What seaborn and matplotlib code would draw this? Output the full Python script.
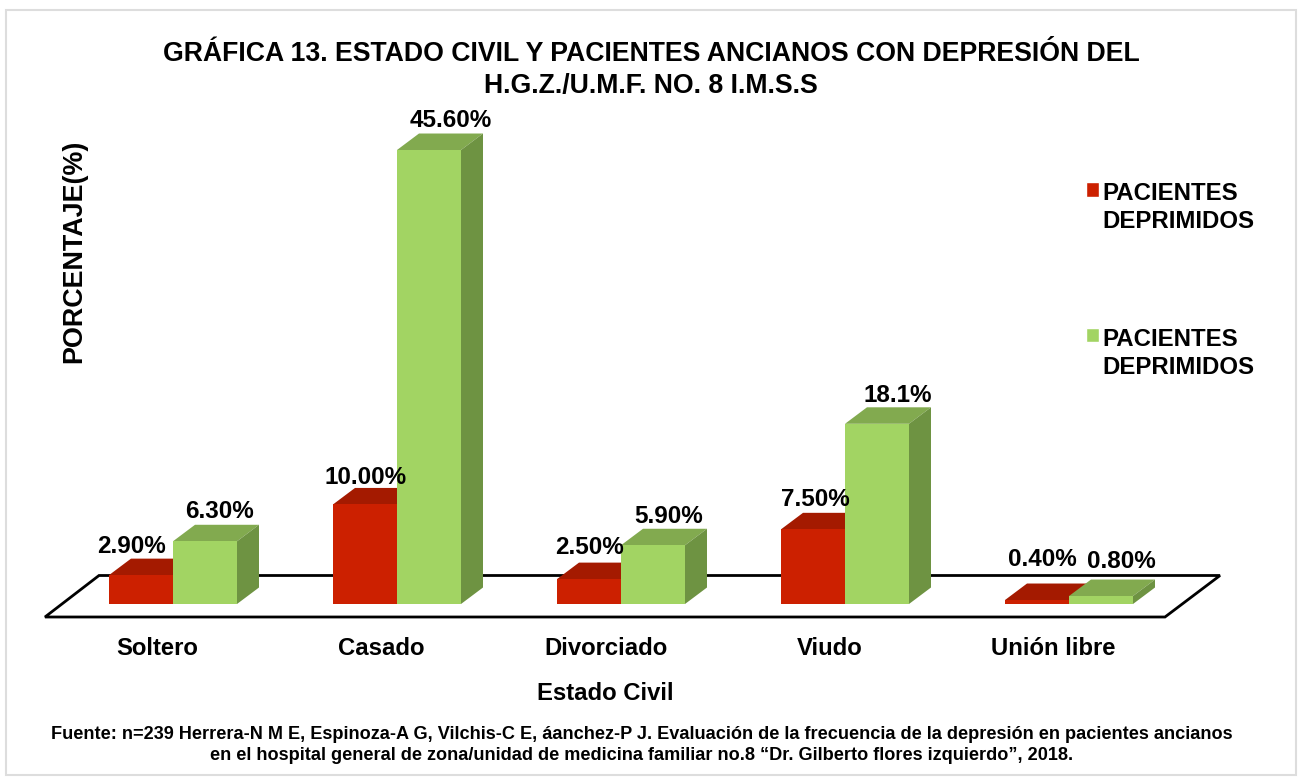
import matplotlib
matplotlib.use("Agg")
import matplotlib.pyplot as plt
import seaborn as sns
import pandas as pd
from matplotlib.patches import Polygon, Rectangle
from matplotlib.legend_handler import HandlerPatch
from matplotlib.transforms import ScaledTranslation

categories = ["Soltero", "Casado", "Divorciado", "Viudo", "Unión libre"]
series_a = [2.9, 10.0, 2.5, 7.5, 0.4]
series_b = [6.3, 45.6, 5.9, 18.1, 0.8]
labels_a = ["2.90%", "10.00%", "2.50%", "7.50%", "0.40%"]
labels_b = ["6.30%", "45.60%", "5.90%", "18.1%", "0.80%"]
legend_name = "PACIENTES\nDEPRIMIDOS"

W, H = 1302, 783
BASE = 604
PX_PER_UNIT = 9.956
X0, STEP = 173, 224
DX, DY = 22, 16.5

sns.set_theme(style="white")
plt.rcParams["font.family"] = ["Liberation Sans", "DejaVu Sans"]
plt.rcParams["font.weight"] = "bold"

fig = plt.figure(figsize=(W / 100, H / 100), dpi=100, facecolor="white")
ax = fig.add_axes([0, 1 - BASE / H, 1, BASE / H])
ax.patch.set_alpha(0)

df = pd.DataFrame({
    "cat": categories * 2,
    "val": series_a + series_b,
    "ser": ["a"] * 5 + ["b"] * 5,
})
fronts = {"a": "#CC2000", "b": "#A2D463"}
tops = {"a": "#A41A00", "b": "#82AA4F"}
sides = {"a": "#8E1600", "b": "#6E9342"}
sns.barplot(data=df, x="cat", y="val", hue="ser", order=categories, hue_order=["a", "b"],
            palette=fronts, width=128 / 224, gap=0, saturation=1, ax=ax, legend=False,
            errorbar=None)

ax.set_xlim(-X0 / STEP, (W - X0) / STEP)
ax.set_ylim(0, BASE / PX_PER_UNIT)
ux = 1 / STEP
uy = 1 / PX_PER_UNIT

def fig_xy(px, py):
    return (px / W, 1 - py / H)

floor = Polygon([fig_xy(99, 575.5), fig_xy(1220, 575.5), fig_xy(1165, 617), fig_xy(45, 617)],
                closed=True, fill=False, edgecolor="black", linewidth=2.0,
                transform=fig.transFigure, clip_on=False, zorder=1, joinstyle="miter")
ax.add_patch(floor)

bars = [b for b in ax.patches if isinstance(b, Rectangle)]
bars_a = bars[:5]
bars_b = bars[5:10]

# label offsets relative to bar-top centre, in pixels
off_a = [(-10, 28.5), (1, 26.5), (0, 31.5), (2, 29.5), (5, 40.5)]
off_b = [(14, 29.5), (22, 29.5), (16, 28.5), (21, 28.5), (20, 34.5)]

for key, bs, labs, offs, z in (("a", bars_a, labels_a, off_a, 3), ("b", bars_b, labels_b, off_b, 5)):
    for b, lab, (ox, oy) in zip(bs, labs, offs):
        x0, w, h = b.get_x(), b.get_width(), b.get_height()
        x1 = x0 + w
        dx, dy = DX * ux, DY * uy
        b.set_zorder(z + 0.5)
        b.set_edgecolor("none")
        ax.add_patch(Polygon([(x0, h), (x1, h), (x1 + dx, h + dy), (x0 + dx, h + dy)],
                             facecolor=tops[key], edgecolor="none", zorder=z))
        ax.add_patch(Polygon([(x1, 0), (x1 + dx, dy), (x1 + dx, h + dy), (x1, h)],
                             facecolor=sides[key], edgecolor="none", zorder=z))
        ax.annotate(lab, (x0 + w / 2, h), xytext=(ox * 0.72, oy * 0.72),
                    textcoords="offset points", ha="center", va="center",
                    fontsize=17.5, fontweight="bold", color="black", zorder=10,
                    annotation_clip=False)

sns.despine(ax=ax, left=True, bottom=True, top=True, right=True)
ax.set_yticks([])
ax.tick_params(axis="x", length=0, pad=23.5)
shift = ScaledTranslation(-15.5 / 100, 0, fig.dpi_scale_trans)
for t in ax.get_xticklabels():
    t.set_fontsize(17.2)
    t.set_fontweight("bold")
    t.set_color("black")
    t.set_transform(t.get_transform() + shift)

ax.set_xlabel("Estado Civil", fontsize=17.2, fontweight="bold", color="black")
ax.xaxis.set_label_coords(605 / W, (BASE - 694) / BASE)
ax.xaxis.label.set_verticalalignment("center")
ax.set_ylabel("PORCENTAJE(%)", fontsize=19.4, fontweight="bold", color="black")
ax.yaxis.set_label_coords(74 / W, (BASE - 251) / BASE)
ax.yaxis.label.set_verticalalignment("center")

fig.text(651 / W, 1 - 70 / H, "GRÁFICA 13. ESTADO CIVIL Y PACIENTES ANCIANOS CON DEPRESIÓN DEL\nH.G.Z./U.M.F. NO. 8 I.M.S.S",
         ha="center", va="center", fontsize=19.2, fontweight="bold", color="black", linespacing=1.34)
fig.text(642 / W, 1 - 745 / H,
         "Fuente: n=239 Herrera-N M E, Espinoza-A G, Vilchis-C E, áanchez-P J. Evaluación de la frecuencia de la depresión en pacientes ancianos\n"
         "en el hospital general de zona/unidad de medicina familiar no.8 “Dr. Gilberto flores izquierdo”, 2018.",
         ha="center", va="center", fontsize=13.1, fontweight="bold", color="black", linespacing=1.33)

LEG_FS = 17.3
def top_handle(legend, orig_handle, xdescent, ydescent, width, height, fontsize):
    return Rectangle((-xdescent, -ydescent + 13.5), width, height)

handles = [Rectangle((0, 0), 1, 1, facecolor=fronts["a"]), Rectangle((0, 0), 1, 1, facecolor=fronts["b"])]
hm = {h: HandlerPatch(patch_func=top_handle) for h in handles}
leg = ax.legend(handles, [legend_name, legend_name], handler_map=hm,
                loc="upper left", bbox_to_anchor=(1086 / W, (BASE - 182) / BASE),
                frameon=False, prop={"size": LEG_FS, "weight": "bold"},
                borderpad=0, borderaxespad=0, handlelength=13 * 0.72 / LEG_FS,
                handleheight=13 * 0.72 / LEG_FS, handletextpad=3 * 0.72 / LEG_FS,
                labelspacing=3.93)
for t in leg.get_texts():
    t.set_linespacing(1.29)
    t.set_color("black")

fig.add_artist(Rectangle((5.5 / W, 1 - 775 / H), 1290.5 / W, 765.5 / H, fill=False,
                         edgecolor="#DDDDDD", linewidth=1.5, transform=fig.transFigure))
fig.savefig("out.png", dpi=100)
